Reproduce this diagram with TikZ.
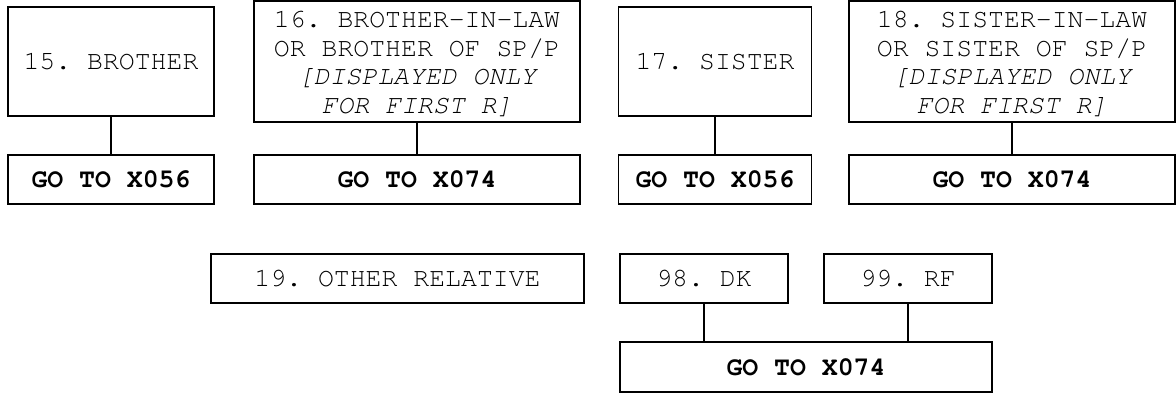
\documentclass[tikz,border=0pt]{standalone}
\usepackage[T1]{fontenc}
\usepackage{courier}
\frenchspacing
\begin{document}
\begin{tikzpicture}[x=1pt,y=-1pt,
  box/.style={draw, line width=1.6pt, inner sep=0pt, align=center,
    font=\ttfamily\frenchspacing\fontsize{26.5}{28.5}\selectfont},
  gobox/.style={box, font=\ttfamily\frenchspacing\bfseries\fontsize{26.5}{28.5}\selectfont,
    minimum height=49pt},
  link/.style={line width=1.6pt}]
\useasboundingbox (0,0) rectangle (1176,393);
% row 1
\node[box, minimum width=206pt, minimum height=109pt] (b15) at (111,61.5) {15. BROTHER};
\node[box, minimum width=326pt, minimum height=109pt] (b16) at (417,61.5)
  {\begin{tabular}{@{}c@{}}\rule{0pt}{27pt}16. BROTHER-IN-LAW\\OR BROTHER OF SP/P\\\itshape [DISPLAYED ONLY\\\itshape FOR FIRST R]\end{tabular}};
\node[box, minimum width=193pt, minimum height=109pt] (b17) at (715,61.5) {17. SISTER};
\node[box, minimum width=326pt, minimum height=109pt] (b18) at (1012,61.5)
  {\begin{tabular}{@{}c@{}}\rule{0pt}{27pt}18. SISTER-IN-LAW\\OR SISTER OF SP/P\\\itshape [DISPLAYED ONLY\\\itshape FOR FIRST R]\end{tabular}};
\node[gobox, minimum width=206pt] (g15) at (111,179.5) {GO TO X056};
\node[gobox, minimum width=326pt] (g16) at (417,179.5) {GO TO X074};
\node[gobox, minimum width=193pt] (g17) at (715,179.5) {GO TO X056};
\node[gobox, minimum width=326pt] (g18) at (1012,179.5) {GO TO X074};
\draw[link] (b15) -- (g15);
\draw[link] (b16) -- (g16);
\draw[link] (b17) -- (g17);
\draw[link] (b18) -- (g18);
% row 2
\node[box, minimum width=373pt, minimum height=49pt] (b19) at (397.5,278.5) {19. OTHER RELATIVE};
\node[box, minimum width=168pt, minimum height=49pt] (b98) at (704,278.5) {98. DK};
\node[box, minimum width=168pt, minimum height=49pt] (b99) at (908,278.5) {99. RF};
\node[gobox, minimum width=372pt, minimum height=50pt] (g98) at (806,367) {GO TO X074};
\draw[link] (b98.south) -- (b98.south |- g98.north);
\draw[link] (b99.south) -- (b99.south |- g98.north);
\end{tikzpicture}
\end{document}
